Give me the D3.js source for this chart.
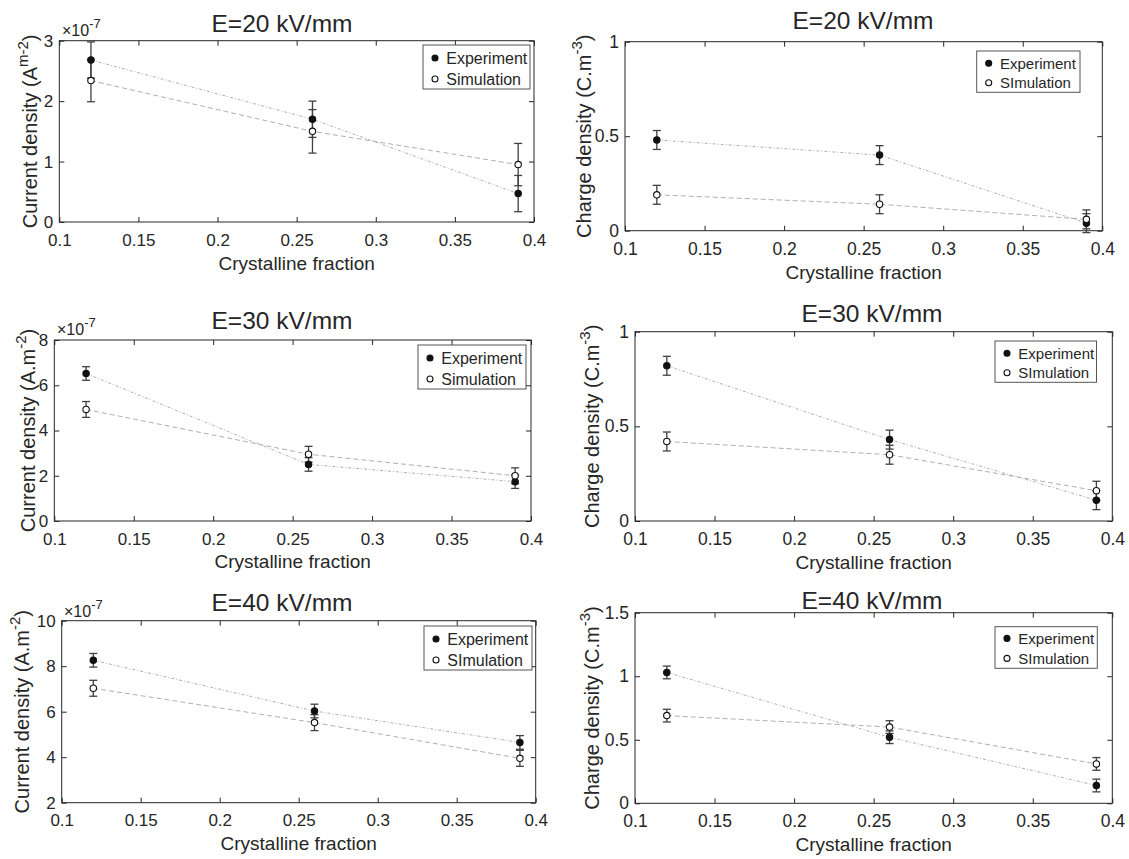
<!DOCTYPE html>
<html><head><meta charset="utf-8">
<script src="https://cdn.jsdelivr.net/npm/d3@7"></script>
<style>
body{margin:0;background:#fff}
svg{display:block}
text{font-family:"Liberation Sans",Arial,Helvetica,sans-serif;fill:#262626}
</style>
</head><body>
<svg id="c" width="1129" height="859"></svg>
<script>
// ---------------- data ----------------
const crystallineFraction = [0.12, 0.26, 0.39];
const xTickValues = [0.1, 0.15, 0.2, 0.25, 0.3, 0.35, 0.4];
const xTickLabels = ["0.1", "0.15", "0.2", "0.25", "0.3", "0.35", "0.4"];
const panelTitles = ["E=20 kV/mm", "E=20 kV/mm", "E=30 kV/mm", "E=30 kV/mm", "E=40 kV/mm", "E=40 kV/mm"];
const seriesNames = ["Experiment", "Simulation"];
const legendSimLabels = ["Simulation", "SImulation", "Simulation", "SImulation", "SImulation", "SImulation"];

// Current density (x 1e-7 A.m^-2)
const current20Exp = [2.68, 1.70, 0.47];
const current20ExpErr = [0.30, 0.30, 0.30];
const current20Sim = [2.34, 1.50, 0.95];
const current20SimErr = [0.35, 0.36, 0.35];

const current30Exp = [6.52, 2.50, 1.74];
const current30ExpErr = [0.30, 0.30, 0.30];
const current30Sim = [4.93, 2.95, 2.00];
const current30SimErr = [0.35, 0.35, 0.35];

const current40Exp = [8.26, 6.03, 4.65];
const current40ExpErr = [0.30, 0.30, 0.30];
const current40Sim = [7.03, 5.52, 3.95];
const current40SimErr = [0.35, 0.35, 0.35];

// Charge density (C.m^-3)
const charge20Exp = [0.48, 0.40, 0.04];
const charge20ExpErr = [0.05, 0.05, 0.05];
const charge20Sim = [0.19, 0.14, 0.06];
const charge20SimErr = [0.05, 0.05, 0.05];

const charge30Exp = [0.82, 0.43, 0.11];
const charge30ExpErr = [0.05, 0.05, 0.05];
const charge30Sim = [0.42, 0.35, 0.16];
const charge30SimErr = [0.05, 0.05, 0.05];

const charge40Exp = [1.03, 0.52, 0.14];
const charge40ExpErr = [0.05, 0.05, 0.05];
const charge40Sim = [0.69, 0.60, 0.31];
const charge40SimErr = [0.05, 0.05, 0.05];

// y-axis ticks
const yTicksCurrent20 = [0, 1, 2, 3];
const yTicksCurrent30 = [0, 2, 4, 6, 8];
const yTicksCurrent40 = [2, 4, 6, 8, 10];
const yTicksCharge20 = [0, 0.5, 1];
const yTicksCharge30 = [0, 0.5, 1];
const yTicksCharge40 = [0, 0.5, 1, 1.5];

// ---------------- panels ----------------
const panels = [
  {exp: current20Exp, expErr: current20ExpErr, sim: current20Sim, simErr: current20SimErr,
   yTicks: yTicksCurrent20, yLabel: ["Current density (A", "m-2", ")"], expo: true,
   L: {x0: 59.3, x1: 534, top: 40.7, bottom: 222, tx: 282, ty: 31.5, ylx: 37.3, xly: 270, ex: 62, ey: 35.7,
       tf: 17, lf: 16, r1: 13, r2: 34, lg: {x: 423, y: 45, w: 107, h: 44}}},
  {exp: charge20Exp, expErr: charge20ExpErr, sim: charge20Sim, simErr: charge20SimErr,
   yTicks: yTicksCharge20, yLabel: ["Charge density (C.m", "-3", ")"], expo: false,
   L: {x0: 625, x1: 1102.3, top: 41.7, bottom: 230.7, tx: 863, ty: 28.5, ylx: 591, xly: 279,
       tf: 17.5, lf: 15, r1: 12.3, r2: 31.7, lg: {x: 976.7, y: 51, w: 103.3, h: 41.3}}},
  {exp: current30Exp, expErr: current30ExpErr, sim: current30Sim, simErr: current30SimErr,
   yTicks: yTicksCurrent30, yLabel: ["Current density (A.m", "-2", ")"], expo: true,
   L: {x0: 54.3, x1: 531, top: 340, bottom: 521, tx: 282, ty: 328.5, ylx: 34.5, xly: 568, ex: 57, ey: 335,
       tf: 17, lf: 16, r1: 13, r2: 34, lg: {x: 418, y: 345, w: 108, h: 44}}},
  {exp: charge30Exp, expErr: charge30ExpErr, sim: charge30Sim, simErr: charge30SimErr,
   yTicks: yTicksCharge30, yLabel: ["Charge density (C.m", "-3", ")"], expo: false,
   L: {x0: 635, x1: 1112.3, top: 331.7, bottom: 521, tx: 872, ty: 321.5, ylx: 599, xly: 569,
       tf: 17.5, lf: 15, r1: 12.3, r2: 31.7, lg: {x: 995, y: 341, w: 101.5, h: 41.3}}},
  {exp: current40Exp, expErr: current40ExpErr, sim: current40Sim, simErr: current40SimErr,
   yTicks: yTicksCurrent40, yLabel: ["Current density (A.m", "-2", ")"], expo: true,
   L: {x0: 61.7, x1: 535.7, top: 620.7, bottom: 802.7, tx: 282, ty: 610.5, ylx: 29.3, xly: 850, ex: 64, ey: 616.7,
       tf: 17, lf: 16, r1: 13, r2: 34, lg: {x: 424, y: 626, w: 108, h: 44}}},
  {exp: charge40Exp, expErr: charge40ExpErr, sim: charge40Sim, simErr: charge40SimErr,
   yTicks: yTicksCharge40, yLabel: ["Charge density (C.m", "-3", ")"], expo: false,
   L: {x0: 635, x1: 1112.3, top: 612.7, bottom: 803.3, tx: 872, ty: 608.5, ylx: 599, xly: 851,
       tf: 17.5, lf: 15, r1: 11.7, r2: 31.7, lg: {x: 995, y: 626.7, w: 102.3, h: 41.6}}}
];

const svg = d3.select("#c");
const AX = "#262626";
const LINE_GRAY = "#b0b0b0";
const ERR = "#404040";

panels.forEach((p, i) => {
  const L = p.L;
  const x = d3.scaleLinear().domain([0.1, 0.4]).range([L.x0, L.x1]);
  const y = d3.scaleLinear().domain(d3.extent(p.yTicks)).range([L.bottom, L.top]);
  const g = svg.append("g");

  // axes: ticks inside, full box
  const fmtX = (d) => xTickLabels[xTickValues.indexOf(d)];
  const bottom = g.append("g").attr("transform", `translate(0,${L.bottom})`)
    .call(d3.axisBottom(x).tickValues(xTickValues).tickFormat(fmtX).tickSize(-5).tickPadding(11.5));
  const top = g.append("g").attr("transform", `translate(0,${L.top})`)
    .call(d3.axisTop(x).tickValues(xTickValues).tickFormat("").tickSize(-5));
  const left = g.append("g").attr("transform", `translate(${L.x0},0)`)
    .call(d3.axisLeft(y).tickValues(p.yTicks).tickFormat(d3.format("~g")).tickSize(-5).tickPadding(6));
  const right = g.append("g").attr("transform", `translate(${L.x1},0)`)
    .call(d3.axisRight(y).tickValues(p.yTicks).tickFormat("").tickSize(-5));
  [bottom, top, left, right].forEach(a => {
    a.select(".domain").remove();
    a.selectAll(".tick line").attr("stroke", AX).attr("stroke-width", 1);
    a.selectAll(".tick text").attr("font-size", L.tf).attr("fill", AX)
      .attr("font-family", '"Liberation Sans",Arial,sans-serif');
  });
  g.append("rect").attr("x", L.x0).attr("y", L.top)
    .attr("width", L.x1 - L.x0).attr("height", L.bottom - L.top)
    .attr("fill", "none").attr("stroke", AX).attr("stroke-width", 1);

  // series
  const series = [
    {vals: p.exp, err: p.expErr, dash: "3,2,1,2", filled: true},
    {vals: p.sim, err: p.simErr, dash: "5,3", filled: false}
  ];
  const line = d3.line().x((d, k) => x(crystallineFraction[k])).y(d => y(d));
  series.forEach(s => {
    g.append("path").datum(s.vals).attr("d", line)
      .attr("fill", "none").attr("stroke", LINE_GRAY).attr("stroke-width", 1)
      .attr("stroke-dasharray", s.dash);
  });
  series.forEach(s => {
    const eb = g.append("g");
    s.vals.forEach((v, k) => {
      const cx = x(crystallineFraction[k]);
      const y1 = y(v + s.err[k]), y2 = y(v - s.err[k]);
      eb.append("line").attr("x1", cx).attr("x2", cx).attr("y1", y1).attr("y2", y2)
        .attr("stroke", ERR).attr("stroke-width", 1.3);
      [y1, y2].forEach(yy => eb.append("line").attr("x1", cx - 4).attr("x2", cx + 4)
        .attr("y1", yy).attr("y2", yy).attr("stroke", ERR).attr("stroke-width", 1.3));
    });
  });
  series.forEach(s => {
    g.append("g").selectAll("circle").data(s.vals).join("circle")
      .attr("cx", (d, k) => x(crystallineFraction[k])).attr("cy", d => y(d))
      .attr("r", 3.2)
      .attr("fill", s.filled ? "#111" : "#fff")
      .attr("stroke", "#111").attr("stroke-width", 1.1);
  });

  // title
  g.append("text").attr("x", L.tx).attr("y", L.ty).attr("text-anchor", "middle")
    .attr("font-size", 24.5).attr("fill", "#111").text(panelTitles[i]);

  // x label
  g.append("text").attr("x", (L.x0 + L.x1) / 2).attr("y", L.xly).attr("text-anchor", "middle")
    .attr("font-size", 19).text("Crystalline fraction");

  // y label (rotated, with superscript)
  const yl = g.append("text")
    .attr("transform", `translate(${L.ylx},${(L.top + L.bottom) / 2}) rotate(-90)`)
    .attr("text-anchor", "middle").attr("font-size", 20);
  yl.append("tspan").text(p.yLabel[0]);
  yl.append("tspan").attr("dy", -9).attr("font-size", 15).text(p.yLabel[1]);
  yl.append("tspan").attr("dy", 9).text(p.yLabel[2]);

  // exponent
  if (p.expo) {
    const e = g.append("text").attr("x", L.ex).attr("y", L.ey).attr("font-size", 16);
    e.append("tspan").text("\u00d710");
    e.append("tspan").attr("dy", -8).attr("font-size", 13).text("-7");
  }

  // legend
  const lg = L.lg;
  const lgG = g.append("g");
  lgG.append("rect").attr("x", lg.x).attr("y", lg.y).attr("width", lg.w).attr("height", lg.h)
    .attr("fill", "#fff").attr("stroke", "#555").attr("stroke-width", 1);
  const names = [seriesNames[0], legendSimLabels[i]];
  names.forEach((n, k) => {
    const cy = lg.y + (k === 0 ? L.r1 : L.r2);
    lgG.append("circle").attr("cx", lg.x + 12).attr("cy", cy).attr("r", 3)
      .attr("fill", k === 0 ? "#111" : "#fff").attr("stroke", "#111").attr("stroke-width", 1.1);
    lgG.append("text").attr("x", lg.x + 23.3).attr("y", cy + L.lf * 0.36).attr("font-size", L.lf).text(n);
  });
});
</script>
</body></html>
